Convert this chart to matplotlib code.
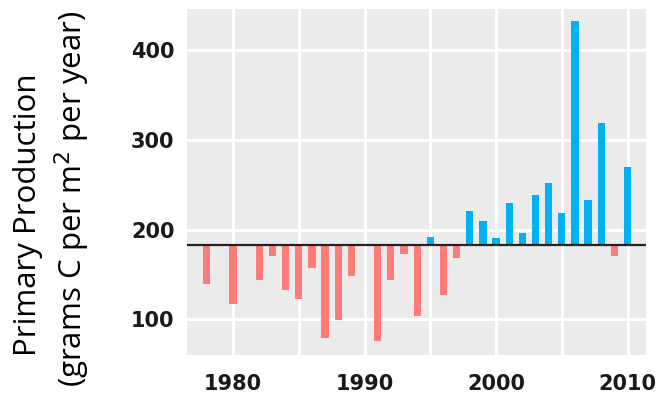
import numpy as np
import matplotlib
matplotlib.use("Agg")
from matplotlib import pyplot as plt

# data
years = [1978, 1980, 1982, 1983, 1984, 1985, 1986, 1987, 1988, 1989,
         1991, 1992, 1993, 1994, 1995, 1996, 1997, 1998, 1999, 2000,
         2001, 2002, 2003, 2004, 2005, 2006, 2007, 2008, 2009, 2010]
production = [139, 117, 144, 170, 133, 122, 157, 79, 99, 148,
              76, 144, 173, 104, 192, 127, 168, 221, 210, 190,
              230, 196, 238, 252, 218, 433, 233, 319, 170, 270]
baseline = 182.6
x_ticks = [1980, 1990, 2000, 2010]
y_ticks = [100, 200, 300, 400]

years = np.array(years)
production = np.array(production)
colors = np.where(production >= baseline, "#00B2F2", "#FF7B78")

fig = plt.figure(figsize=(6.71, 4.07), dpi=100)
ax = fig.add_axes([0.2787, 0.1278, 0.684, 0.850])
ax.set_facecolor("#EBEBEB")

ax.bar(years, production - baseline, bottom=baseline, width=0.55,
       color=colors, zorder=2)
ax.axhline(baseline, color="#222222", lw=1.6, zorder=3)

ax.set_xlim(1976.5, 2011.4)
ax.set_ylim(60, 446)
ax.set_xticks(x_ticks)
ax.set_xticks([1985, 1995, 2005], minor=True)
ax.set_yticks(y_ticks)
ax.grid(True, which="both", color="white", lw=2.2, zorder=1)
ax.tick_params(which="both", length=0)
ax.tick_params(axis="y", pad=9)
ax.tick_params(axis="x", pad=14)
for s in ax.spines.values():
    s.set_visible(False)

for lab in ax.get_xticklabels() + ax.get_yticklabels():
    lab.set_fontfamily("DejaVu Sans")
    lab.set_fontweight("bold")
    lab.set_fontsize(15)
    lab.set_color("#1a1a1a")

fig.text(0.041, 0.472, "Primary Production", rotation=90, ha="center",
         va="center", fontsize=22.5, family="Open Sans")
fig.text(0.108, 0.513, "(grams C per m$^2$ per year)", rotation=90,
         ha="center", va="center", fontsize=22.5, family="Open Sans")

fig.savefig("out.png", dpi=100)
